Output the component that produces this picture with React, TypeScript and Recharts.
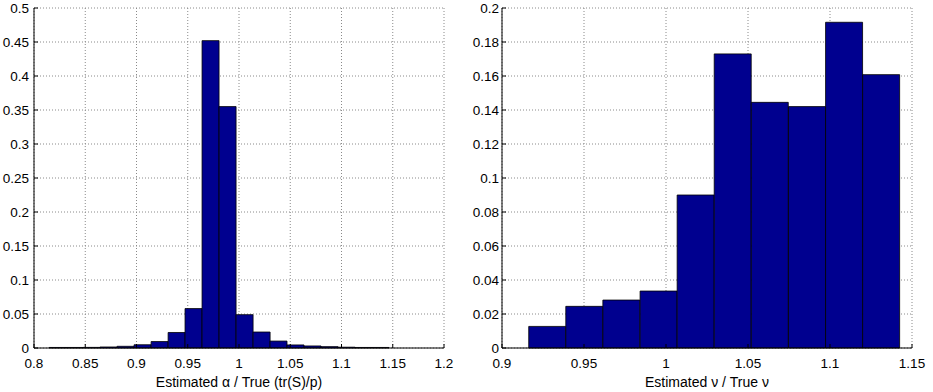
import React from 'react';
import { BarChart, Bar, XAxis, YAxis, CartesianGrid } from 'recharts';

// Left histogram: estimated alpha / true (bin centres and relative frequencies)
const alphaBins = [0.8230, 0.8396, 0.8562, 0.8727, 0.8893, 0.9059, 0.9225, 0.9391, 0.9556, 0.9722,
  0.9888, 1.0054, 1.0220, 1.0385, 1.0551, 1.0717, 1.0883, 1.1049, 1.1214, 1.1380];
const alphaFreq = [0.0008, 0.0008, 0.0009, 0.0015, 0.0025, 0.0048, 0.0095, 0.0228, 0.058, 0.452,
  0.355, 0.049, 0.0235, 0.0102, 0.0045, 0.003, 0.002, 0.0012, 0.0008, 0.0008];
const alphaXTicks = [0.8, 0.85, 0.9, 0.95, 1, 1.05, 1.1, 1.15, 1.2];
const alphaYTicks = [0, 0.05, 0.1, 0.15, 0.2, 0.25, 0.3, 0.35, 0.4, 0.45, 0.5];
const alphaLabel = 'Estimated α / True (tr(S)/p)';

// Right histogram: estimated nu / true nu
const nuBins = [0.9276, 0.9502, 0.9728, 0.9955, 1.0181, 1.0407, 1.0633, 1.0860, 1.1086, 1.1312];
const nuFreq = [0.0127, 0.0245, 0.0282, 0.0335, 0.090, 0.173, 0.1445, 0.142, 0.1916, 0.1608];
const nuXTicks = [0.9, 0.95, 1, 1.05, 1.1, 1.15];
const nuYTicks = [0, 0.02, 0.04, 0.06, 0.08, 0.1, 0.12, 0.14, 0.16, 0.18, 0.2];
const nuLabel = 'Estimated ν / True ν';

const BAR_FILL = '#00008F';
const FONT = '"Liberation Sans", Arial, Helvetica, sans-serif';

type PanelProps = {
  bins: number[];
  freq: number[];
  xTicks: number[];
  yTicks: number[];
  label: string;
  width: number;
  yAxisWidth: number;
  rightMargin: number;
  yTickMargin: number;
};

function Panel({ bins, freq, xTicks, yTicks, label, width, yAxisWidth, rightMargin, yTickMargin }: PanelProps) {
  const data = bins.map((x, i) => ({ x, freq: freq[i] }));
  const xDomain: [number, number] = [xTicks[0], xTicks[xTicks.length - 1]];
  const yDomain: [number, number] = [yTicks[0], yTicks[yTicks.length - 1]];
  const tickStyle = { fill: '#000', fontSize: 13.5, fontFamily: FONT };
  return (
    <BarChart
      width={width}
      height={392}
      data={data}
      margin={{ top: 8, right: rightMargin, left: 0, bottom: 0 }}
      barCategoryGap={0}
      barGap={0}
      style={{ fontFamily: FONT }}
    >
      <CartesianGrid stroke="#8a8a8a" strokeDasharray="1 2" />
      <XAxis
        dataKey="x"
        type="number"
        domain={xDomain}
        ticks={xTicks}
        interval={0}
        allowDataOverflow
        height={44}
        axisLine={{ stroke: '#000' }}
        tickLine={{ stroke: '#000' }}
        tickSize={-4}
        tickMargin={14}
        tick={tickStyle}
        tickFormatter={(v: number) => String(v)}
        label={{ value: label, position: 'insideBottom', offset: 5, fill: '#000', fontSize: 14, fontFamily: FONT }}
      />
      <XAxis
        xAxisId="top"
        orientation="top"
        dataKey="x"
        type="number"
        domain={xDomain}
        ticks={xTicks}
        interval={0}
        allowDataOverflow
        height={0}
        axisLine={{ stroke: '#000' }}
        tickLine={{ stroke: '#000' }}
        tickSize={-4}
        tick={false}
      />
      <YAxis
        type="number"
        domain={yDomain}
        ticks={yTicks}
        interval={0}
        width={yAxisWidth}
        axisLine={{ stroke: '#000' }}
        tickLine={{ stroke: '#000' }}
        tickSize={-4}
        tickMargin={yTickMargin}
        tick={tickStyle}
        tickFormatter={(v: number) => String(v)}
      />
      <YAxis
        yAxisId="right"
        orientation="right"
        type="number"
        domain={yDomain}
        ticks={yTicks}
        interval={0}
        width={0}
        axisLine={{ stroke: '#000' }}
        tickLine={{ stroke: '#000' }}
        tickSize={-4}
        tick={false}
      />
      <Bar dataKey="freq" fill={BAR_FILL} stroke="#000" strokeWidth={0.8} isAnimationActive={false} />
    </BarChart>
  );
}

export default function App() {
  return (
    <div style={{ position: 'absolute', left: 0, top: 0, width: 933, height: 392, background: '#fff' }}>
      <div style={{ position: 'absolute', left: 0, top: 0 }}>
        <Panel
          bins={alphaBins}
          freq={alphaFreq}
          xTicks={alphaXTicks}
          yTicks={alphaYTicks}
          label={alphaLabel}
          width={460}
          yAxisWidth={34}
          rightMargin={16}
          yTickMargin={9}
        />
      </div>
      <div style={{ position: 'absolute', left: 460, top: 0 }}>
        <Panel
          bins={nuBins}
          freq={nuFreq}
          xTicks={nuXTicks}
          yTicks={nuYTicks}
          label={nuLabel}
          width={473}
          yAxisWidth={42}
          rightMargin={21}
          yTickMargin={7}
        />
      </div>
    </div>
  );
}
